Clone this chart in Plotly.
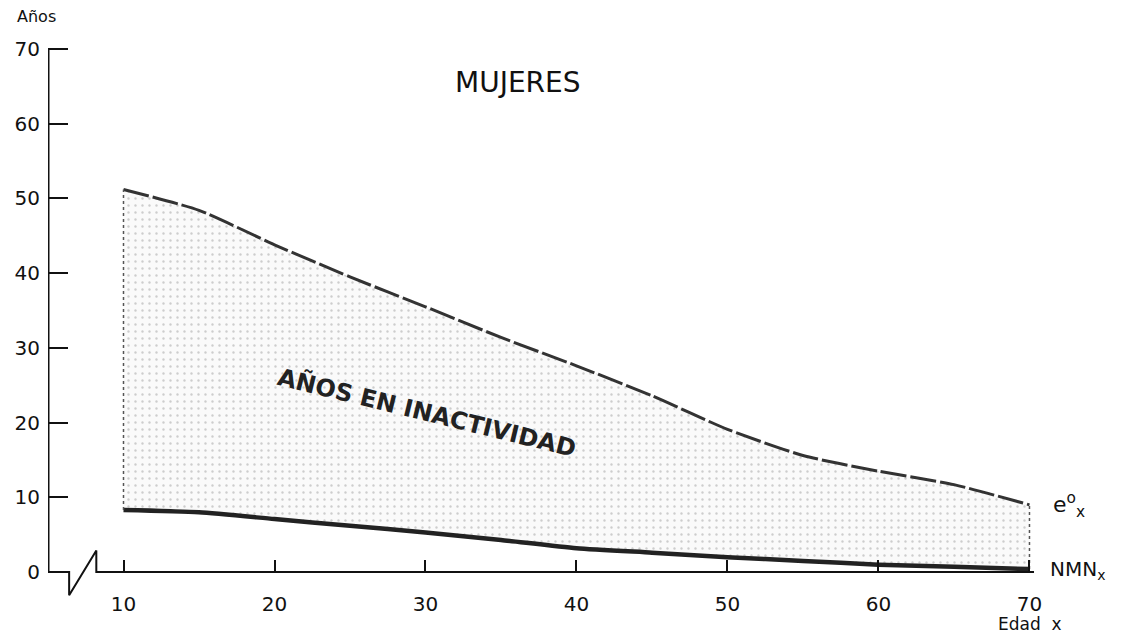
import plotly.graph_objects as go

# ---- data ----
ages = [10, 15, 20, 25, 30, 35, 40, 45, 50, 55, 60, 65, 70]
ex = [51.2, 48.4, 43.8, 39.5, 35.5, 31.4, 27.6, 23.6, 19.1, 15.6, 13.5, 11.7, 9.0]      # e°x
nmn = [8.3, 8.0, 7.1, 6.2, 5.3, 4.3, 3.2, 2.6, 2.0, 1.5, 1.0, 0.7, 0.4]               # NMNx

x_ticks = [10, 20, 30, 40, 50, 60, 70]
y_ticks = [0, 10, 20, 30, 40, 50, 60, 70]

# axis break (zig-zag) of the x axis, in data units
brk_x = [5, 6.4, 6.4, 8.2, 8.2, 70.3]
brk_y = [0, 0, -3.1, 2.9, 0, 0]

FONT = "DejaVu Sans"
INK = "#111111"

fig = go.Figure()

# lower curve (NMNx)
fig.add_trace(go.Scatter(x=ages, y=nmn, mode="lines",
                         line=dict(color="#222222", width=4.5, shape="spline", smoothing=0.6),
                         hoverinfo="skip", showlegend=False))
# upper curve (e°x) with stippled fill between
fig.add_trace(go.Scatter(x=ages, y=ex, mode="lines", fill="tonexty",
                         fillcolor="rgba(245,245,245,0.6)",
                         fillpattern=dict(shape=".", fgcolor="#a0a0a0", bgcolor="rgba(246,246,246,0.6)",
                                          size=7, solidity=0.09),
                         line=dict(color="#333333", width=3, dash="26px,4px",
                                   shape="spline", smoothing=0.6),
                         hoverinfo="skip", showlegend=False))
# dotted side edges of the shaded area
fig.add_trace(go.Scatter(x=[ages[0], ages[0]], y=[nmn[0], ex[0]], mode="lines",
                         line=dict(color="#555555", width=1.5, dash="dot"),
                         hoverinfo="skip", showlegend=False))
fig.add_trace(go.Scatter(x=[ages[-1], ages[-1]], y=[nmn[-1], ex[-1]], mode="lines",
                         line=dict(color="#555555", width=1.5, dash="dot"),
                         hoverinfo="skip", showlegend=False))
# y axis line
fig.add_trace(go.Scatter(x=[brk_x[0], brk_x[0]], y=[y_ticks[0], y_ticks[-1]], mode="lines",
                         line=dict(color=INK, width=3),
                         hoverinfo="skip", showlegend=False))
# x axis line with break
fig.add_trace(go.Scatter(x=brk_x, y=brk_y, mode="lines",
                         line=dict(color=INK, width=2),
                         hoverinfo="skip", showlegend=False))

y_lo, y_hi = -4, 72
OFF = 8                      # page body margin
W, H = 1123 - OFF, 643 - OFF
L, R, T, B = 40, 60, 26, 41
PW, PH = W - L - R, H - T - B


def px_to_paper(px, py):
    return (px - OFF - L) / PW, (OFF + H - B - py) / PH


ay_x, ay_y = px_to_paper(36, 17)
ed_x, ed_y = px_to_paper(1030, 624)

fig.update_layout(
    width=W, height=H,
    margin=dict(l=L, r=R, t=T, b=B, autoexpand=False),
    paper_bgcolor="white", plot_bgcolor="white",
    font=dict(family=FONT, color=INK, size=18),
    xaxis=dict(range=[5, 72.22], domain=[0, 1], anchor="free", automargin=False,
               position=(0 - y_lo) / (y_hi - y_lo),
               showline=False, showgrid=False, zeroline=False,
               tickvals=x_ticks, ticks="inside", ticklen=12, tickwidth=1.5,
               tickcolor=INK, ticklabelstandoff=18,
               tickfont=dict(family=FONT, size=20, color=INK)),
    yaxis=dict(range=[y_lo, y_hi], showline=False, showgrid=False, zeroline=False,
               automargin=False,
               tickvals=y_ticks, ticks="inside", ticklen=20, tickwidth=1.5,
               tickcolor=INK, ticklabelstandoff=7,
               tickfont=dict(family=FONT, size=20, color=INK)),
    annotations=[
        dict(text="Años", x=ay_x, y=ay_y, xref="paper", yref="paper", showarrow=False,
             xanchor="center", yanchor="middle",
             font=dict(family=FONT, size=16, color=INK)),
        dict(text="MUJERES", x=36.1, y=65.5, xref="x", yref="y", showarrow=False,
             xanchor="center", yanchor="middle",
             font=dict(family=FONT, size=28, color=INK)),
        dict(text="<b>AÑOS EN INACTIVIDAD</b>", x=30.1, y=21.4, xref="x", yref="y",
             showarrow=False, textangle=13.7,
             font=dict(family=FONT, size=24, color="#222222")),
        dict(text="e<sup>o</sup><sub>x</sub>", x=71.4, y=9.0, xref="x", yref="y",
             xanchor="left", yanchor="middle", showarrow=False,
             font=dict(family=FONT, size=22, color=INK)),
        dict(text="NMN<sub>x</sub>", x=71.2, y=0.3, xref="x", yref="y",
             xanchor="left", yanchor="middle", showarrow=False,
             font=dict(family=FONT, size=20, color=INK)),
        dict(text="Edad  x", x=ed_x, y=ed_y, xref="paper", yref="paper", showarrow=False,
             xanchor="center", yanchor="middle",
             font=dict(family=FONT, size=17, color=INK)),
    ],
)

fig.write_html("out.html")
